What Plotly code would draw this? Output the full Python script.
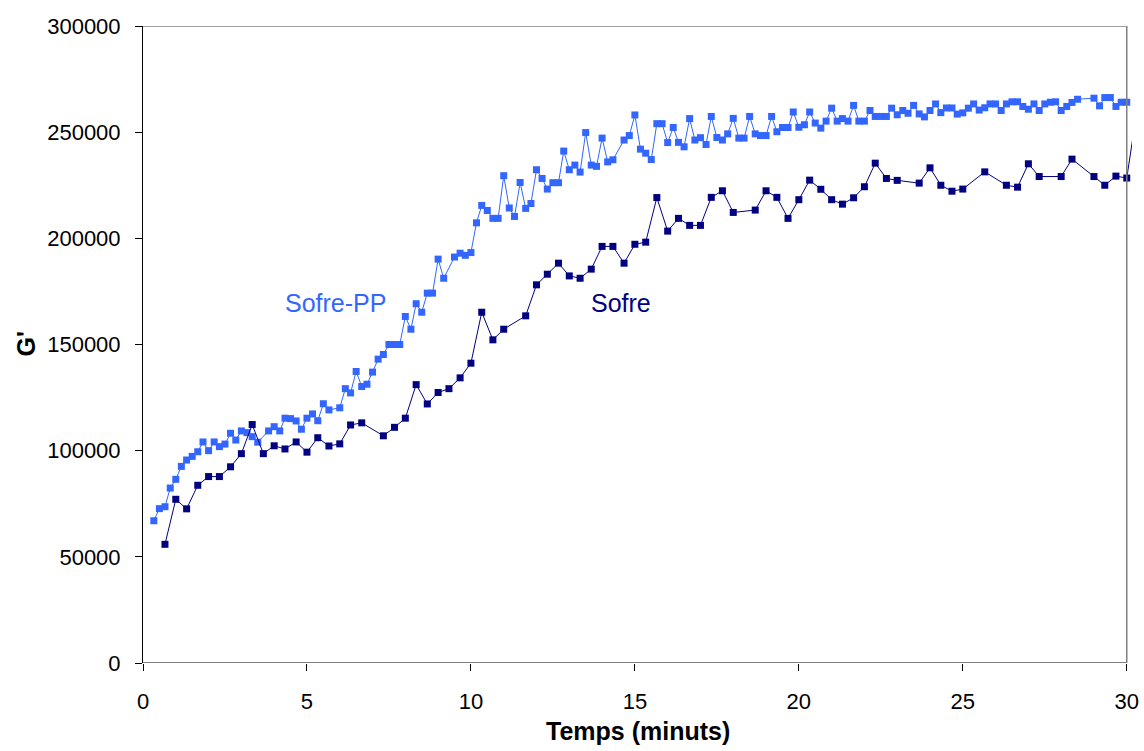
import plotly.graph_objects as go

# ---- data ----
pp_t = [0.33, 0.5, 0.67, 0.83, 1.0, 1.17, 1.33, 1.5, 1.67, 1.83, 2.0, 2.17, 2.33, 2.5, 2.67, 2.83,
        3.0, 3.17, 3.33, 3.5, 3.83, 4.0, 4.17, 4.33, 4.5, 4.67, 4.83, 5.0, 5.17, 5.33, 5.5, 5.67,
        6.0, 6.17, 6.33, 6.5, 6.67, 6.83, 7.0, 7.17, 7.33, 7.5, 7.67, 7.83, 8.0, 8.17, 8.33, 8.5,
        8.67, 8.83, 9.0, 9.17, 9.5, 9.67, 9.83, 10.0, 10.17, 10.33, 10.5, 10.67, 10.83, 11.0,
        11.17, 11.33, 11.5, 11.67, 11.83, 12.0, 12.17, 12.33, 12.5, 12.67, 12.83, 13.0, 13.17,
        13.33, 13.5, 13.67, 13.83, 14.0, 14.17, 14.33, 14.67, 14.83, 15.0, 15.17, 15.33, 15.5,
        15.67, 15.83, 16.0, 16.17, 16.33, 16.5, 16.67, 16.83, 17.0, 17.17, 17.33, 17.5, 17.67,
        17.83, 18.0, 18.17, 18.33, 18.5, 18.67, 18.83, 19.0, 19.17, 19.33, 19.5, 19.67, 19.83,
        20.0, 20.17, 20.33, 20.5, 20.67, 20.83, 21.0, 21.17, 21.33, 21.5, 21.67, 21.83, 22.0,
        22.17, 22.33, 22.5, 22.67, 22.83, 23.0, 23.17, 23.33, 23.5, 23.67, 23.83, 24.0, 24.17,
        24.33, 24.5, 24.67, 24.83, 25.0, 25.17, 25.33, 25.5, 25.67, 25.83, 26.0, 26.17, 26.33,
        26.5, 26.67, 26.83, 27.0, 27.17, 27.33, 27.5, 27.67, 27.83, 28.0, 28.17, 28.33, 28.5,
        29.0, 29.17, 29.33, 29.5, 29.67, 29.83, 30.0]
pp_g = [67000, 72700, 73600, 82400, 86500, 92600, 95600, 97300, 99500, 104100, 100000, 104100,
        101900, 103100, 108200, 105000, 109300, 108500, 106600, 104000, 109300, 111300, 109300,
        115300, 115100, 114000, 110100, 115300, 117300, 114100, 122100, 119200, 120200, 129200,
        127200, 137300, 130200, 131300, 137000, 143100, 145300, 150000, 150000, 150000, 163200,
        157200, 169200, 165200, 174200, 174200, 190200, 181200, 191200, 193000, 192000, 193300,
        207300, 215500, 213100, 209400, 209400, 229500, 214300, 210300, 226300, 214100, 216400,
        232300, 228200, 223200, 226200, 226200, 241100, 232300, 234500, 231200, 249800, 234500,
        233900, 247200, 236000, 237000, 246300, 248400, 258100, 242000, 240100, 237100, 254000,
        254000, 245100, 252200, 245200, 243100, 256400, 246300, 247400, 244200, 257400, 247500,
        246300, 249200, 256500, 247200, 247200, 257400, 249200, 248400, 248400, 257400, 250200,
        252200, 252200, 259500, 252300, 253500, 259500, 254300, 251900, 255200, 261300, 255200,
        256400, 255200, 262600, 255200, 255200, 260200, 257400, 257400, 257400, 261300, 258200,
        260200, 258900, 262600, 258600, 257200, 260200, 263300, 259200, 261400, 261400, 258500,
        259100, 261300, 263300, 260400, 261500, 263300, 263300, 260200, 263300, 264300, 264300,
        262100, 260800, 263300, 260200, 263300, 264100, 264300, 260200, 262100, 264000, 265500,
        266000, 262400, 266300, 266300, 262100, 264100, 264100]

s_t = [0.67, 1.0, 1.33, 1.67, 2.0, 2.33, 2.67, 3.0, 3.33, 3.67, 4.0, 4.33, 4.67, 5.0, 5.33,
       5.67, 6.0, 6.33, 6.67, 7.33, 7.67, 8.0, 8.33, 8.67, 9.0, 9.33, 9.67, 10.0, 10.33, 10.67,
       11.0, 11.67, 12.0, 12.33, 12.67, 13.0, 13.33, 13.67, 14.0, 14.33, 14.67, 15.0, 15.33,
       15.67, 16.0, 16.33, 16.67, 17.0, 17.33, 17.67, 18.0, 18.67, 19.0, 19.33, 19.67, 20.0,
       20.33, 20.67, 21.0, 21.33, 21.67, 22.0, 22.33, 22.67, 23.0, 23.67, 24.0, 24.33, 24.67,
       25.0, 25.67, 26.33, 26.67, 27.0, 27.33, 28.0, 28.33, 29.0, 29.33, 29.67, 30.0, 30.33]
s_g = [55900, 77100, 72600, 83700, 87800, 87800, 92400, 98600, 112300, 98600, 102300, 100800,
       104100, 99300, 106100, 102200, 103200, 112100, 113100, 107000, 111000, 115300, 131100,
       122000, 127400, 129200, 134300, 141200, 165200, 152200, 157200, 163500, 178100, 183100,
       188300, 182300, 181200, 185500, 196200, 196200, 188300, 197200, 198200, 219200, 203400,
       209400, 206100, 206100, 219300, 222400, 212200, 213300, 222400, 219300, 209400, 218200,
       227400, 223100, 218200, 216100, 219100, 224300, 235400, 228200, 227300, 226000, 233200,
       225000, 222200, 223200, 231300, 225000, 224100, 235100, 229100, 229100, 237300, 229100,
       225000, 229300, 228400, 262000]

series_names = ["Sofre-PP", "Sofre"]
x_ticks = [0, 5, 10, 15, 20, 25, 30]
y_ticks = [0, 50000, 100000, 150000, 200000, 250000, 300000]
x_title = "Temps (minuts)"
y_title = "G'"

LIGHT = "#3366FF"
NAVY = "#000080"
FONT = "Liberation Sans, Arial, sans-serif"

fig = go.Figure()
fig.add_trace(go.Scatter(x=pp_t, y=pp_g, mode="lines+markers", name=series_names[0],
                         line=dict(color=LIGHT, width=1),
                         marker=dict(symbol="square", size=7, color=LIGHT)))
fig.add_trace(go.Scatter(x=s_t, y=s_g, mode="lines+markers", name=series_names[1],
                         line=dict(color=NAVY, width=1),
                         marker=dict(symbol="square", size=7, color=NAVY)))

fig.update_layout(
    width=1144, height=751,
    margin=dict(l=143, r=12, t=26, b=88, autoexpand=False),
    paper_bgcolor="white", plot_bgcolor="white",
    showlegend=False,
    font=dict(family=FONT, size=22, color="black"),
    xaxis=dict(range=[0, 30.16], tickvals=x_ticks, ticks="outside", ticklen=7,
               tickcolor="black", showgrid=False, zeroline=False, showline=False,
               automargin=False, tickfont=dict(size=22), ticklabelstandoff=12),
    yaxis=dict(range=[0, 300000], tickvals=y_ticks, tickformat="d", ticks="outside",
               ticklen=7, tickcolor="black", showgrid=False, zeroline=False,
               showline=True, linecolor="black", linewidth=1, automargin=False,
               tickfont=dict(size=22), ticklabelstandoff=10),
)

# plot-area frame: bottom axis black, top and right border gray
fig.add_shape(type="line", xref="x", yref="y", x0=0, x1=30, y0=0, y1=0,
              line=dict(color="black", width=1))
fig.add_shape(type="line", xref="x", yref="y", x0=0, x1=30, y0=300000, y1=300000,
              line=dict(color="#808080", width=1.5))
fig.add_shape(type="line", xref="x", yref="y", x0=30, x1=30, y0=0, y1=300000,
              line=dict(color="#808080", width=1.5))

# series labels
fig.add_annotation(x=5.87, y=169600, xref="x", yref="y", text=series_names[0],
                   showarrow=False, font=dict(size=25, color=LIGHT))
fig.add_annotation(x=14.59, y=169600, xref="x", yref="y", text=series_names[1],
                   showarrow=False, font=dict(size=25, color=NAVY))

# axis titles
fig.add_annotation(x=0.5, y=0, xref="paper", yref="paper", yanchor="top", yshift=-53,
                   text="<b>" + x_title + "</b>", showarrow=False, font=dict(size=25),
                   borderpad=0)
fig.add_annotation(x=0, y=0.5, xref="paper", yref="paper", xanchor="center", xshift=-118,
                   text="<b>" + y_title + "</b>", textangle=-90, showarrow=False,
                   font=dict(size=25))

fig.write_html("out.html")
